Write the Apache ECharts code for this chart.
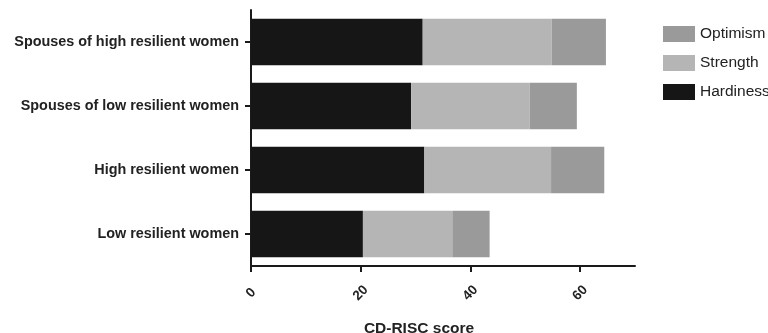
<!DOCTYPE html>
<html>
<head>
<meta charset="utf-8">
<script src="https://cdn.jsdelivr.net/npm/echarts@6/dist/echarts.min.js"></script>
<style>html,body{margin:0;padding:0;background:#fff}#c{width:768px;height:333px}</style>
</head>
<body>
<div id="c"></div>
<script>
const categories = ["Spouses of high resilient women", "Spouses of low resilient women", "High resilient women", "Low resilient women"];
const hardiness = [31.3, 29.2, 31.6, 20.4];
const strength = [23.5, 21.6, 23.1, 16.3];
const optimism = [9.9, 8.6, 9.7, 6.8];
const xTicks = [0, 20, 40, 60];
const axisTitle = "CD-RISC score";

const chart = echarts.init(document.getElementById('c'), null, {renderer: 'canvas'});
const font = '"Liberation Sans", Arial, Helvetica, sans-serif';
chart.setOption({
  animation: false,
  backgroundColor: '#fff',
  textStyle: {fontFamily: font},
  grid: {left: 251, right: 133, top: 10, bottom: 67, containLabel: false},
  legend: {
    orient: 'vertical', left: 658, top: 21,
    itemWidth: 32, itemHeight: 16, itemGap: 13,
    icon: 'rect',
    data: ['Optimism', 'Strength', 'Hardiness'],
    textStyle: {fontFamily: font, fontSize: 15.5, color: '#222', lineHeight: 16}
  },
  xAxis: {
    type: 'value', min: 0, max: 70, interval: 10,
    splitLine: {show: false},
    axisLine: {show: true, lineStyle: {color: '#1a1a1a', width: 2}},
    axisTick: {show: true, length: 6, lineStyle: {color: '#1a1a1a', width: 2}, customValues: xTicks},
    axisLabel: {customValues: xTicks, rotate: 45, align: 'center', verticalAlign: 'middle', margin: 27,
      fontFamily: font, fontSize: 13.5, fontWeight: 'bold', color: '#222'}
  },
  yAxis: {
    type: 'category', data: categories, inverse: true,
    axisLine: {show: true, lineStyle: {color: '#1a1a1a', width: 2}},
    axisTick: {show: true, length: 6, alignWithLabel: true, lineStyle: {color: '#1a1a1a', width: 2}},
    axisLabel: {margin: 12, fontFamily: font, fontSize: 14.4, fontWeight: 'bold', color: '#222'}
  },
  graphic: [{
    type: 'text', x: 419, y: 329,
    style: {text: axisTitle, fontFamily: font, fontSize: 15.5, fontWeight: 'bold', fill: '#222', textAlign: 'center', textVerticalAlign: 'middle'}
  }],
  series: [
    {name: 'Hardiness', type: 'bar', stack: 's', data: hardiness, barWidth: '73%', itemStyle: {color: '#161616'}},
    {name: 'Strength', type: 'bar', stack: 's', data: strength, itemStyle: {color: '#b5b5b5'}},
    {name: 'Optimism', type: 'bar', stack: 's', data: optimism, itemStyle: {color: '#9a9a9a'}}
  ]
});
</script>
</body>
</html>
